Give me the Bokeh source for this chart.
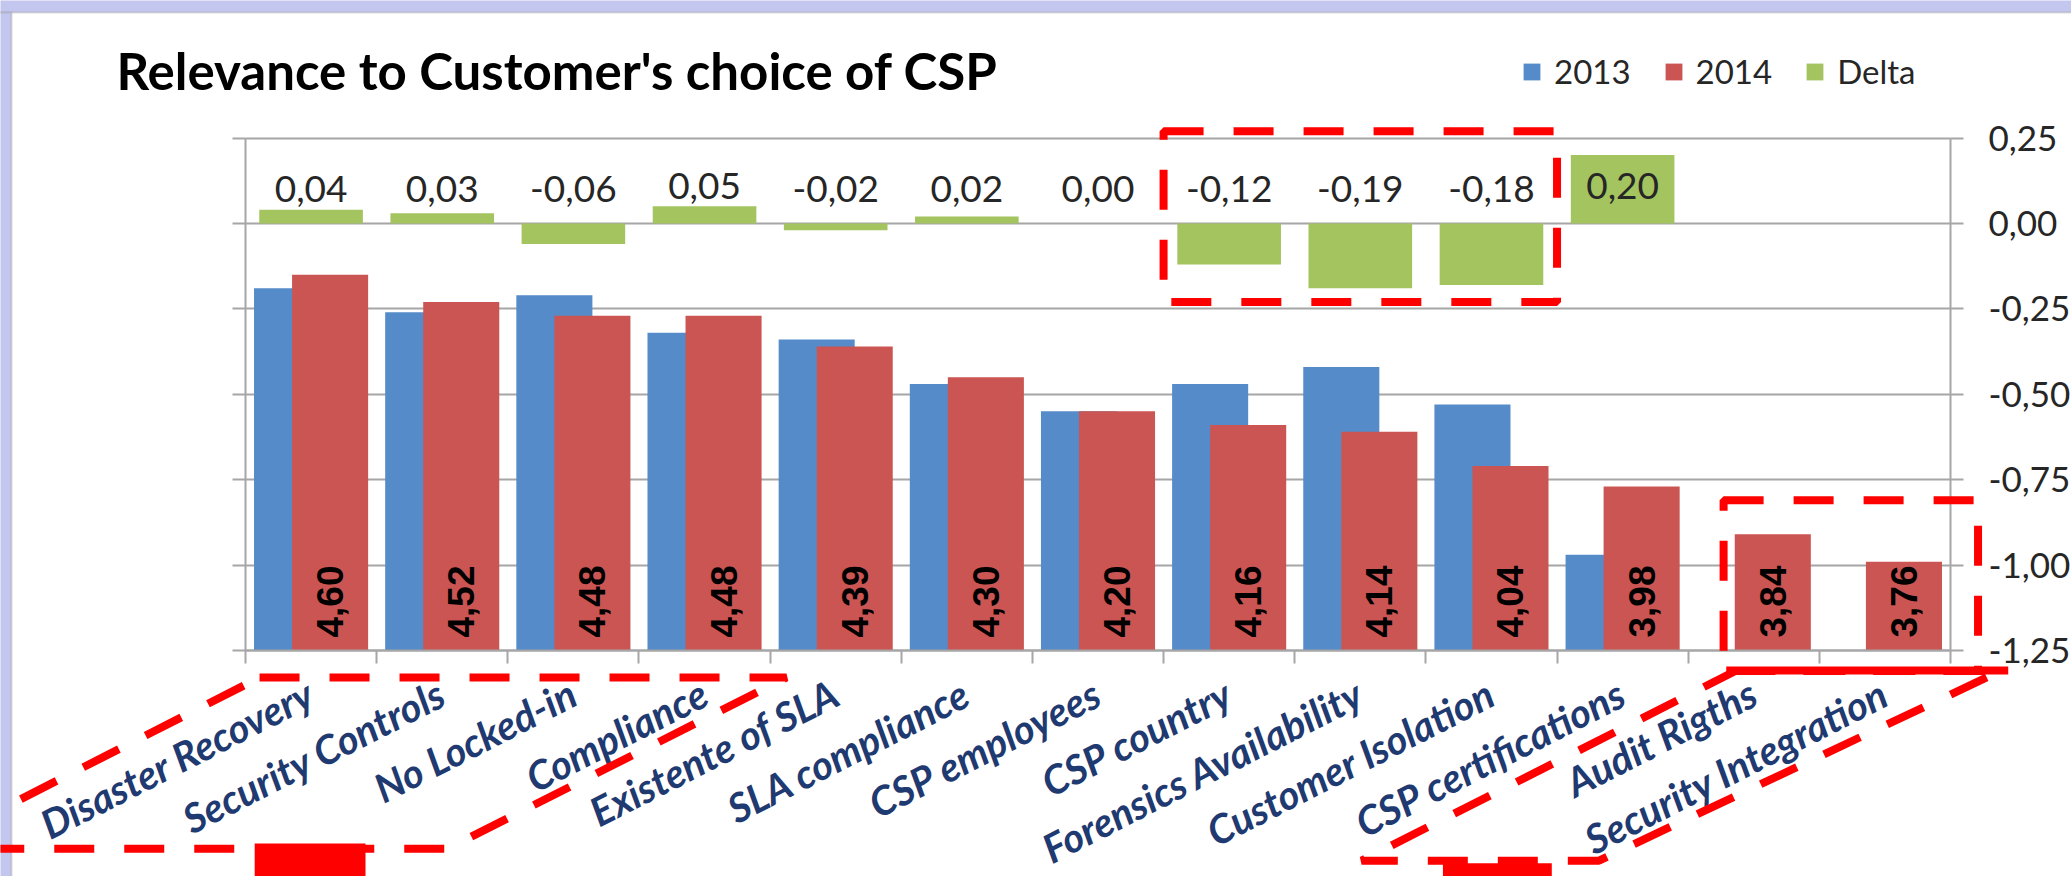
import numpy as np
from bokeh.plotting import figure
from bokeh.models import (Range1d, LinearAxis, FixedTicker, Grid, ColumnDataSource,
                          Label, Legend, LegendItem, PolyAnnotation, BoxAnnotation)
from bokeh.core.properties import value
from bokeh.embed import file_html
from bokeh.resources import INLINE

# ---------------- data ----------------
categories = ["Disaster Recovery", "Security Controls", "No Locked-in", "Compliance",
              "Existente of SLA", "SLA compliance", "CSP employees", "CSP country",
              "Forensics Availability", "Customer Isolation", "CSP certifications",
              "Audit Rigths", "Security Integration"]
values_2013 = [4.56, 4.49, 4.54, 4.43, 4.41, 4.28, 4.20, 4.28, 4.33, 4.22, 3.78, None, None]
values_2014 = [4.60, 4.52, 4.48, 4.48, 4.39, 4.30, 4.20, 4.16, 4.14, 4.04, 3.98, 3.84, 3.76]
delta = [0.04, 0.03, -0.06, 0.05, -0.02, 0.02, 0.00, -0.12, -0.19, -0.18, 0.20, None, None]
series_names = ["2013", "2014", "Delta"]
title_text = "Relevance to Customer's choice of CSP"
left_ticks = [3.5, 3.75, 4.0, 4.25, 4.5, 4.75, 5.0]
right_ticks = [0.25, 0.0, -0.25, -0.5, -0.75, -1.0, -1.25]
right_tick_labels = ["0,25", "0,00", "-0,25", "-0,50", "-0,75", "-1,00", "-1,25"]

# ---------------- styles / layout ----------------
BLUE, RED, GREEN = "#558BC9", "#CB5553", "#A3C45E"
GREY = "#A6A6A6"
NAVY = "#1F3A70"
TXT = "#262626"
FONT = "Lato"
W, H = 2071, 876
FL, FR, FT, FB = 245, 1950, 137.5, 650      # plot area inside the canvas (px)

n = len(categories)
to_arr = lambda L: np.array([np.nan if v is None else v for v in L], dtype=float)
v13, v14, dl = to_arr(values_2013), to_arr(values_2014), to_arr(delta)
centers = np.arange(n) + 0.5
fmt = lambda v: ("%.2f" % v).replace(".", ",")

ymin, ymax = left_ticks[0], left_ticks[-1]
ppx = (FR - FL) / n
ppy = (FB - FT) / (ymax - ymin)
x_lo, x_hi = -FL / ppx, n + (W - FR) / ppx
y_lo, y_hi = ymin - (H - FB) / ppy, ymax + FT / ppy
shift = right_ticks[-1] - ymin            # primary -> delta axis offset

p = figure(width=W, height=H, output_backend="svg", toolbar_location=None, title=None,
           x_range=Range1d(x_lo, x_hi), y_range=Range1d(y_lo, y_hi),
           x_axis_type=None, y_axis_type=None, min_border=0)
p.min_border_left = p.min_border_right = p.min_border_top = p.min_border_bottom = 0
p.extra_y_ranges = {"delta": Range1d(y_lo + shift, y_hi + shift)}
p.outline_line_color = None
p.background_fill_color = "white"
p.border_fill_color = "white"

# grid (behind bars)
if "cross_bounds" in Grid.properties():
    p.add_layout(Grid(dimension=1, ticker=FixedTicker(ticks=left_ticks), bounds=(ymin, ymax),
                      cross_bounds=(0, n), grid_line_color=GREY, grid_line_width=2))
else:
    p.segment(x0=0, x1=n, y0=left_ticks, y1=left_ticks, line_color=GREY, line_width=2,
              level="underlay")

# axes (fixed at the plot-area edges)
xaxis = LinearAxis(fixed_location=ymin, bounds=(0, n),
                   ticker=FixedTicker(ticks=list(centers), minor_ticks=list(range(n + 1))),
                   major_label_overrides={float(c): t for c, t in zip(centers, categories)},
                   major_label_orientation=27 * np.pi / 180, major_label_standoff=27,
                   major_tick_in=0, major_tick_out=0, major_tick_line_color=None,
                   minor_tick_in=0, minor_tick_out=13, minor_tick_line_color=GREY,
                   minor_tick_line_width=2, axis_line_color=GREY, axis_line_width=2,
                   major_label_text_font=FONT, major_label_text_font_style="bold italic",
                   major_label_text_font_size="40px", major_label_text_color=NAVY)
p.add_layout(xaxis, "below")
p.add_layout(LinearAxis(fixed_location=0, bounds=(ymin, ymax), ticker=FixedTicker(ticks=left_ticks),
                        axis_line_color=GREY, axis_line_width=2, major_tick_line_color=GREY,
                        major_tick_line_width=2, major_tick_in=0, major_tick_out=13,
                        minor_tick_line_color=None, major_label_text_color=None), "left")
p.add_layout(LinearAxis(y_range_name="delta", fixed_location=n,
                        bounds=(right_ticks[-1], right_ticks[0]),
                        ticker=FixedTicker(ticks=right_ticks),
                        major_label_overrides={float(t): s for t, s in zip(right_ticks, right_tick_labels)},
                        axis_line_color=GREY, axis_line_width=2, major_tick_line_color=GREY,
                        major_tick_line_width=2, major_tick_in=0, major_tick_out=13,
                        minor_tick_line_color=None, major_label_standoff=25,
                        major_label_text_font=FONT, major_label_text_font_size="35px",
                        major_label_text_color=TXT), "right")

# bars
src = ColumnDataSource(dict(x13=centers - 0.145, x14=centers + 0.145, xc=centers,
                            v13=v13, v14=v14, d=dl, lab14=[fmt(v) for v in v14]))
r13 = p.vbar(x="x13", width=0.58, bottom=ymin, top="v13", source=src,
             fill_color=BLUE, line_color=None)
r14 = p.vbar(x="x14", width=0.58, bottom=ymin, top="v14", source=src,
             fill_color=RED, line_color=None)
rd = p.vbar(x="xc", width=0.79, bottom=0, top="d", source=src, y_range_name="delta",
            fill_color=GREEN, line_color=None)

# 2014 value labels (vertical, inside base)
p.text(x="x14", y=ymin, text="lab14", source=src, angle=np.pi / 2, text_align="left",
       text_baseline="middle", y_offset=-13, text_font=value("Liberation Sans"),
       text_font_style="bold", text_font_size="37px", text_color="black")

# delta labels
ok = np.isfinite(dl)
dsrc = ColumnDataSource(dict(x=centers[ok], y=np.clip(dl[ok] + 0.06, 0.10, 0.11),
                             t=[fmt(v) for v in dl[ok]]))
p.text(x="x", y="y", text="t", source=dsrc, y_range_name="delta", text_align="center",
       text_baseline="middle", text_font=value(FONT), text_font_size="37px", text_color=TXT)

# title
p.add_layout(Label(x=x_lo + 116 / ppx, y=y_hi - 70 / ppy, text=title_text,
                   text_font=FONT, text_font_style="bold", text_font_size="51px",
                   text_baseline="middle", text_align="left", text_color="black"))

# legend
legend = Legend(items=[LegendItem(label=series_names[0], renderers=[r13]),
                       LegendItem(label=series_names[1], renderers=[r14]),
                       LegendItem(label=series_names[2], renderers=[rd])],
                orientation="horizontal", location=(1521, H - 91), glyph_width=21,
                glyph_height=21, label_standoff=12, spacing=32, padding=0, margin=0,
                border_line_color=None, background_fill_alpha=0, label_text_font=FONT,
                label_text_font_size="33px", label_text_color=TXT)
p.add_layout(legend)

# window frame strips (top / left)
p.add_layout(BoxAnnotation(left=x_lo - 1, right=x_hi + 1, bottom=y_hi - 12 / ppy, top=y_hi + 1,
                           fill_color="#C3C6EE", fill_alpha=1, line_color="#8C8C8C",
                           line_width=2, level="overlay"))
p.add_layout(BoxAnnotation(left=x_lo - 1, right=x_lo + 11 / ppx, bottom=y_lo - 1, top=y_hi - 12 / ppy,
                           fill_color="#C3C6EE", fill_alpha=1, line_color="#8C8C8C",
                           line_width=2, level="overlay"))

# ---------------- red highlight annotations (data units) ----------------
idx = categories.index
dash = dict(line_color="#FF0000", line_alpha=1, line_width=8, line_dash="40 30",
            fill_alpha=0, level="overlay")
solid = dict(fill_color="#FF0000", fill_alpha=1, line_color=None, level="overlay")
i0, i1 = idx("CSP country"), idx("Customer Isolation") + 1
box_bottom = np.nanmin(dl[i0:i1]) - shift - 0.04
p.add_layout(PolyAnnotation(xs=[i0, i1, i1, i0], ys=[ymax + 0.02] * 2 + [box_bottom] * 2, **dash))
ia = idx("Audit Rigths")
p.add_layout(PolyAnnotation(xs=[ia + 0.27, n + 0.21, n + 0.21, ia + 0.27],
                            ys=[v14[ia] + 0.10] * 2 + [ymin - 0.06] * 2, **dash))
p.add_layout(BoxAnnotation(left=ia + 0.29, right=n + 0.44, bottom=ymin - 0.070, top=ymin - 0.047,
                           **solid))
p.add_layout(PolyAnnotation(xs=[ia + 0.36, n + 0.38, n - 2.68, n - 4.49],
                            ys=[ymin - 0.06] * 2 + [ymin - 0.615] * 2, **dash))
p.add_layout(BoxAnnotation(left=n - 3.87, right=n - 3.04, bottom=y_lo - 0.05, top=ymin - 0.623,
                           **solid))
p.add_layout(PolyAnnotation(xs=[0.107, 4.125, 1.54, -2.455],
                            ys=[ymin - 0.079] * 2 + [ymin - 0.58] * 2, **dash))
p.add_layout(BoxAnnotation(left=0.07, right=0.915, bottom=y_lo - 0.05, top=ymin - 0.565,
                           **solid))

open("out.html", "w").write(file_html(p, INLINE))
